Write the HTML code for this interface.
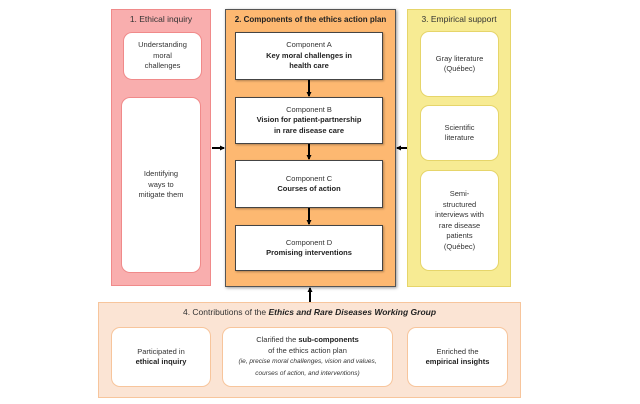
<!DOCTYPE html><html><head><style>
body{margin:0;width:640px;height:404px;background:#fff;font-family:"Liberation Sans",sans-serif;position:relative;overflow:hidden;color:#333}
div{box-sizing:border-box;position:absolute}
.t{font-size:8.5px;text-align:center;line-height:11px}
.wb{background:#fff;border-radius:9px;display:flex;align-items:center;justify-content:center;text-align:center;font-size:7.5px;line-height:10.5px;padding:3px}
.cb{background:#fff;border:1px solid #444;display:flex;align-items:center;justify-content:center;text-align:center;font-size:7.5px;line-height:10.5px;box-shadow:1px 1px 2px rgba(0,0,0,.3)}
b{color:#222}
</style></head><body>
<div style="left:111px;top:9px;width:100px;height:277px;background:#f9aeae;border:1px solid #f08a8a"></div>
<div class="t" style="left:111px;top:14px;width:100px">1. Ethical inquiry</div>
<div class="wb" style="left:123px;top:32px;width:79px;height:48px;border:1px solid #f08a8a"><span>Understanding<br>moral<br>challenges</span></div>
<div class="wb" style="left:121px;top:97px;width:80px;height:176px;border:1px solid #f08a8a"><span>Identifying<br>ways to<br>mitigate them</span></div>

<div style="left:225px;top:9px;width:171px;height:278px;background:#fdb871;border:1px solid #555;box-shadow:1px 1px 3px rgba(0,0,0,.4)"></div>
<div class="t" style="left:225px;top:14px;width:171px;font-weight:bold;color:#222;font-size:8px">2. Components of the ethics action plan</div>
<div class="cb" style="left:235px;top:32px;width:148px;height:48px"><span>Component A<br><b>Key moral challenges in<br>health care</b></span></div>
<div class="cb" style="left:235px;top:97px;width:148px;height:47px"><span>Component B<br><b>Vision for patient-partnership<br>in rare disease care</b></span></div>
<div class="cb" style="left:235px;top:160px;width:148px;height:48px"><span>Component C<br><b>Courses of action</b></span></div>
<div class="cb" style="left:235px;top:225px;width:148px;height:46px"><span>Component D<br><b>Promising interventions</b></span></div>
<svg style="position:absolute;left:0;top:0" width="640" height="404">
<defs><marker id="a" markerUnits="userSpaceOnUse" markerWidth="5" markerHeight="5" refX="4" refY="2.5" orient="auto"><path d="M0,0L5,2.5L0,5z" fill="#000"/></marker></defs>
<g stroke="#000" stroke-width="2" fill="none" marker-end="url(#a)">
<line x1="309" y1="80" x2="309" y2="96"/>
<line x1="309" y1="144" x2="309" y2="159"/>
<line x1="309" y1="208" x2="309" y2="224"/>
<line x1="212" y1="148" x2="224" y2="148"/>
<line x1="407" y1="148" x2="397" y2="148"/>
<line x1="310" y1="302" x2="310" y2="288"/>
</g></svg>

<div style="left:407px;top:9px;width:104px;height:278px;background:#f7eb93;border:1px solid #e6d56a"></div>
<div class="t" style="left:407px;top:14px;width:104px">3. Empirical support</div>
<div class="wb" style="left:420px;top:31px;width:79px;height:66px;border:1px solid #e6d56a"><span>Gray literature<br>(Québec)</span></div>
<div class="wb" style="left:420px;top:105px;width:79px;height:56px;border:1px solid #e6d56a"><span>Scientific<br>literature</span></div>
<div class="wb" style="left:420px;top:170px;width:79px;height:101px;border:1px solid #e6d56a"><span>Semi-<br>structured<br>interviews with<br>rare disease<br>patients<br>(Québec)</span></div>

<div style="left:98px;top:302px;width:423px;height:96px;background:#fbe4d4;border:1px solid #f7c59c"></div>
<div class="t" style="left:98px;top:307px;width:423px">4. Contributions of the <b><i>Ethics and Rare Diseases Working Group</i></b></div>
<div class="wb" style="left:111px;top:327px;width:100px;height:60px;border:1px solid #f7c59c"><span>Participated in<br><b>ethical inquiry</b></span></div>
<div class="wb" style="left:222px;top:327px;width:171px;height:60px;border:1px solid #f7c59c"><span style="line-height:10.5px">Clarified the <b>sub-components</b><br>of the ethics action plan<br><i style="font-size:6.5px;line-height:10.5px">(ie, precise moral challenges, vision and values,<br>courses of action, and interventions)</i></span></div>
<div class="wb" style="left:407px;top:327px;width:101px;height:60px;border:1px solid #f7c59c"><span>Enriched the<br><b>empirical insights</b></span></div>
</body></html>
